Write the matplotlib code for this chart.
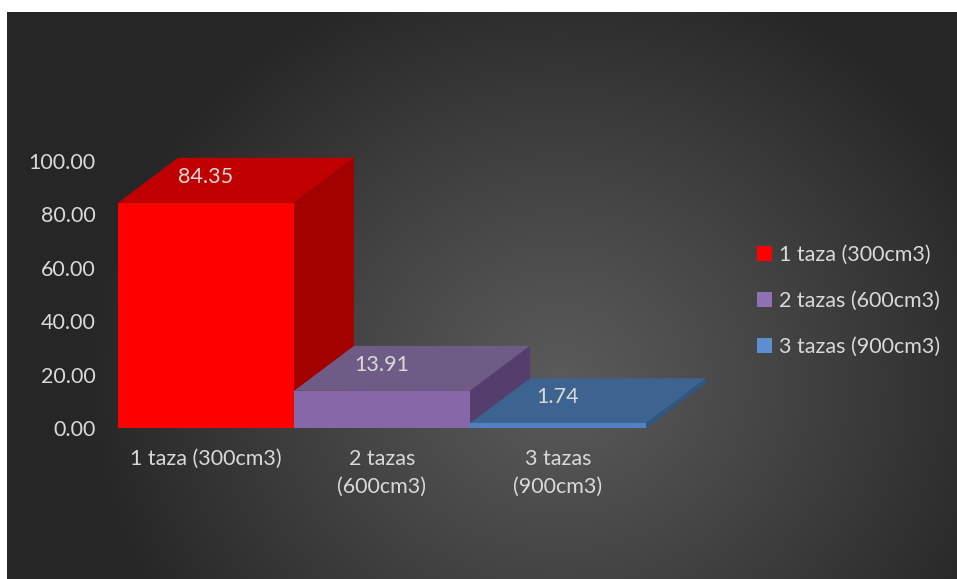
import numpy as np
import matplotlib
matplotlib.use("Agg")
import matplotlib.pyplot as plt
from matplotlib.patches import Polygon, Patch

categories = ["1 taza (300cm3)", "2 tazas\n(600cm3)", "3 tazas\n(900cm3)"]
series = ["1 taza (300cm3)", "2 tazas (600cm3)", "3 tazas (900cm3)"]
values = [84.35, 13.91, 1.74]
yticks = [0, 20, 40, 60, 80, 100]

front_colors = ["#FF0000", "#8668A8", "#4F81C4"]
top_colors = ["#C00000", "#6E5C86", "#3D6490"]
side_colors = ["#A30000", "#553E6E", "#2E5686"]
legend_colors = ["#FF0000", "#8D72B3", "#5B8FD0"]
text_color = "#D9D9D9"

W, H = 957, 579
plt.rcParams["font.family"] = ["Lato", "DejaVu Sans"]

fig = plt.figure(figsize=(W / 100, H / 100), dpi=100, facecolor="white")

# dark radial background
bg = fig.add_axes([7 / W, 0, (W - 7) / W, (H - 12) / H])
xx, yy = np.meshgrid(np.arange(7, W), np.arange(12, H))
r = np.hypot((xx - 560) / 1.0, (yy - 380) / 0.9)
t = np.clip(r / 480, 0, 1) ** 1.1
shade = (90 + (38 - 90) * t) / 255
bg.imshow(np.dstack([shade] * 3), extent=(0, 1, 0, 1), aspect="auto")
bg.set_axis_off()

ax = fig.add_axes([118 / W, (H - 428) / H, 528 / W, (428 - 161) / H])
ax.set_xlim(-0.5, 2.5)
ax.set_ylim(0, 100)
ax.patch.set_alpha(0)
for s in ax.spines.values():
    s.set_visible(False)

# depth of the 3D boxes, in data units (60 px right, 45 px up)
dx = 60 / 176
dy = 45 / ((428 - 161) / 100)

x = np.arange(len(values))
for i, (xi, v) in enumerate(zip(x, values)):
    z = 2 + i * 3
    x0, x1 = xi - 0.5, xi + 0.5
    ax.bar(xi, v, width=1.0, color=front_colors[i], zorder=z + 2, linewidth=0)
    top = [(x0, v), (x0 + dx, v + dy), (x1 + dx, v + dy), (x1, v)]
    side = [(x1, 0), (x1, v), (x1 + dx, v + dy), (x1 + dx, dy)]
    ax.add_patch(Polygon(top, closed=True, facecolor=top_colors[i],
                         edgecolor="none", zorder=z, clip_on=False))
    ax.add_patch(Polygon(side, closed=True, facecolor=side_colors[i],
                         edgecolor="none", zorder=z + 1, clip_on=False))
    ax.annotate(f"{v:.2f}", (xi, v), xytext=(0, 26), textcoords="offset pixels",
                ha="center", va="center", color=text_color, fontsize=15.5,
                zorder=20, annotation_clip=False)

ax.set_yticks(yticks)
ax.set_yticklabels([f"{t:.2f}" for t in yticks])
ax.set_xticks(x)
ax.set_xticklabels(categories, linespacing=1.5)
ax.tick_params(axis="y", length=0, pad=16, labelsize=15.5, labelcolor=text_color)
ax.tick_params(axis="x", length=0, pad=15, labelsize=15.5, labelcolor=text_color)

handles = [Patch(facecolor=c, edgecolor="none") for c in legend_colors]
fig.legend(handles, series, loc="center left", bbox_to_anchor=(738 / W, (H - 301) / H),
           frameon=False, fontsize=15.5, labelcolor=text_color, handlelength=0.7,
           handleheight=0.7, handletextpad=0.3, labelspacing=1.2)

fig.savefig("out.png", dpi=100, facecolor="white")
